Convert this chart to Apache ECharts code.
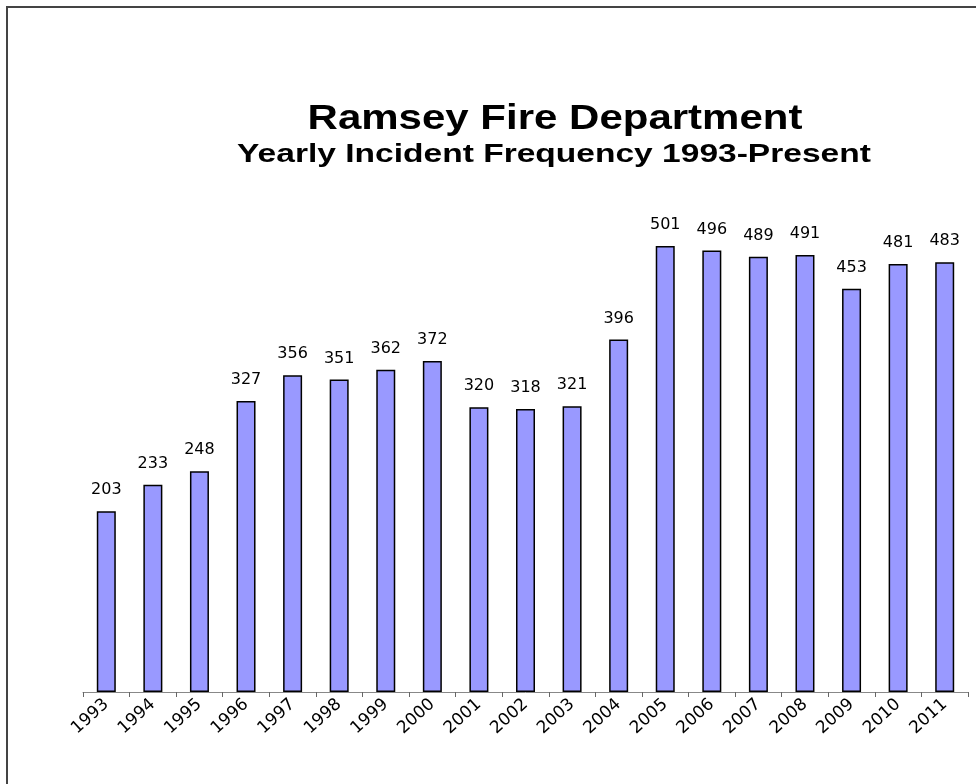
<!DOCTYPE html>
<html>
<head>
<meta charset="utf-8">
<script src="https://cdn.jsdelivr.net/npm/echarts@6/dist/echarts.min.js"></script>
<style>
  html, body { margin: 0; padding: 0; background: #fff; }
  #main { width: 976px; height: 784px; }
</style>
</head>
<body>
<div id="main"></div>
<script>
// data
var years = ['1993', '1994', '1995', '1996', '1997', '1998', '1999', '2000', '2001', '2002',
             '2003', '2004', '2005', '2006', '2007', '2008', '2009', '2010', '2011'];
var incidents = [203, 233, 248, 327, 356, 351, 362, 372, 320, 318,
                 321, 396, 501, 496, 489, 491, 453, 481, 483];

var chart = echarts.init(document.getElementById('main'));

var option = {
    animation: false,
    backgroundColor: '#fff',
    graphic: [
        {
            type: 'rect',
            shape: { x: 7, y: 7, width: 1100, height: 1100 },
            style: { fill: 'none', stroke: '#444', lineWidth: 2 }
        },
        {
            // the original title looks horizontally stretched
            type: 'text',
            x: 555, y: 119,
            scaleX: 1.2,
            style: {
                text: 'Ramsey Fire Department',
                font: 'bold 35px "Liberation Sans", Arial, sans-serif',
                fill: '#000',
                align: 'center',
                verticalAlign: 'middle'
            }
        },
        {
            type: 'text',
            x: 554, y: 155,
            scaleX: 1.29,
            style: {
                text: 'Yearly Incident Frequency 1993-Present',
                font: 'bold 26px "Liberation Sans", Arial, sans-serif',
                fill: '#000',
                align: 'center',
                verticalAlign: 'middle'
            }
        }
    ],
    grid: { left: 83, right: 8, top: 158, bottom: 92 },
    xAxis: {
        type: 'category',
        data: years,
        axisLine: { lineStyle: { color: '#888', width: 1 } },
        axisTick: { show: true, length: 5, lineStyle: { color: '#666' } },
        axisLabel: {
            rotate: 42,
            color: '#000',
            fontSize: 17,
            fontFamily: '"DejaVu Sans", sans-serif',
            margin: 10
        }
    },
    yAxis: {
        type: 'value',
        min: 0,
        max: 600,
        show: false,
        splitLine: { show: false }
    },
    series: [
        {
            type: 'bar',
            data: incidents,
            barWidth: 19,
            itemStyle: { color: '#9999FF', borderColor: '#000', borderWidth: 1.5 },
            label: {
                show: true,
                position: 'top',
                distance: 13,
                color: '#000',
                fontSize: 16,
                fontFamily: '"DejaVu Sans", sans-serif'
            }
        }
    ]
};

chart.setOption(option);
</script>
</body>
</html>
